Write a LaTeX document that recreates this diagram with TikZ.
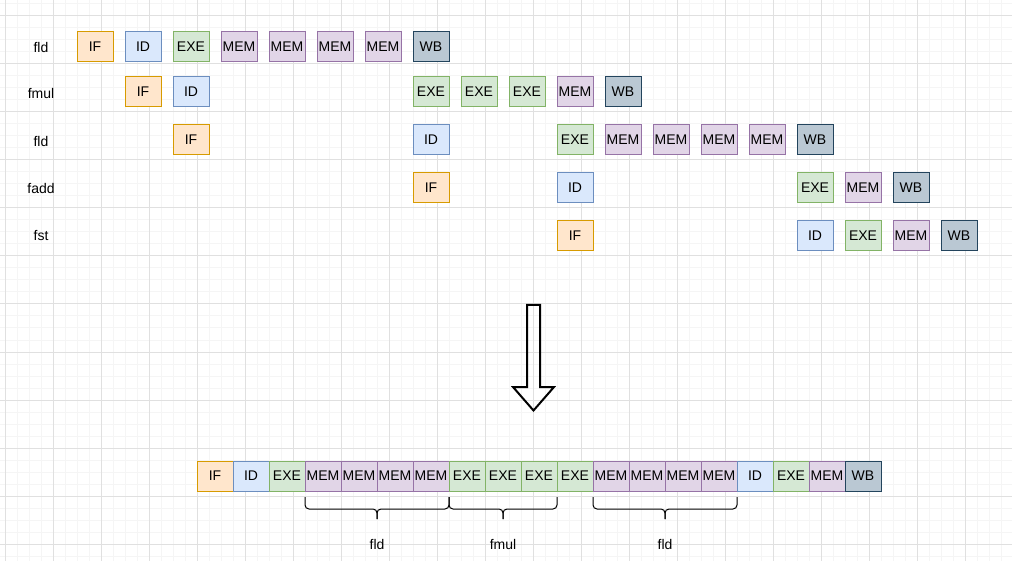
\documentclass[tikz,border=0pt]{standalone}
\usepackage{fontspec}
\setmainfont{Liberation Sans}
\begin{document}
\begin{tikzpicture}[x=1pt,y=-1pt,
  stage/.style={draw, line width=1pt, minimum width=36pt, minimum height=30pt, inner sep=0pt, font=\fontsize{14}{16}\selectfont},
  sIF/.style={stage, fill=ifF, draw=ifD},
  sID/.style={stage, fill=idF, draw=idD},
  sEXE/.style={stage, fill=exF, draw=exD},
  sMEM/.style={stage, fill=meF, draw=meD},
  sWB/.style={stage, fill=wbF, draw=wbD},
  lbl/.style={font=\fontsize{14}{16}\selectfont, inner sep=0pt},
  brc/.style={line width=1pt, rounded corners=4pt}]
\definecolor{ifF}{HTML}{FFE6CC}\definecolor{ifD}{HTML}{D79B00}
\definecolor{idF}{HTML}{DAE8FC}\definecolor{idD}{HTML}{6C8EBF}
\definecolor{exF}{HTML}{D5E8D4}\definecolor{exD}{HTML}{82B366}
\definecolor{meF}{HTML}{E1D5E7}\definecolor{meD}{HTML}{9673A6}
\definecolor{wbF}{HTML}{BAC8D3}\definecolor{wbD}{HTML}{23445D}
\definecolor{gridminor}{HTML}{F5F5F5}
\definecolor{gridmajor}{HTML}{E0E0E0}
\useasboundingbox[fill=white] (0,0) rectangle (1012,561);
% grid
\foreach \x in {5,17,...,1012} \draw[gridminor, line width=1pt] (\x,0) -- (\x,561);
\foreach \y in {4,16,...,561} \draw[gridminor, line width=1pt] (0,\y) -- (1012,\y);
\foreach \x in {5,53,...,1012} \draw[gridmajor, line width=1pt] (\x,0) -- (\x,561);
\foreach \y in {16,64,...,561} \draw[gridmajor, line width=1pt] (0,\y) -- (1012,\y);

% row labels
\node[lbl] (l1) at (41,47) {fld};
\node[lbl] (l2) at (41,93) {fmul};
\node[lbl] (l3) at (41,141) {fld};
\node[lbl] (l4) at (41,188) {fadd};
\node[lbl] (l5) at (41,236) {fst};

% row 1
\node[sIF]  (a1) at (95,47) {IF};
\node[sID]  (a2) at (143,47) {ID};
\node[sEXE] (a3) at (191,47) {EXE};
\node[sMEM] (a4) at (239,47) {MEM};
\node[sMEM] (a5) at (287,47) {MEM};
\node[sMEM] (a6) at (335,47) {MEM};
\node[sMEM] (a7) at (383,47) {MEM};
\node[sWB]  (a8) at (431,47) {WB};

% row 2
\node[sIF]  (b1) at (143,92) {IF};
\node[sID]  (b2) at (191,92) {ID};
\node[sEXE] (b3) at (431,92) {EXE};
\node[sEXE] (b4) at (479,92) {EXE};
\node[sEXE] (b5) at (527,92) {EXE};
\node[sMEM] (b6) at (575,92) {MEM};
\node[sWB]  (b7) at (623,92) {WB};

% row 3
\node[sIF]  (c1) at (191,140) {IF};
\node[sID]  (c2) at (431,140) {ID};
\node[sEXE] (c3) at (575,140) {EXE};
\node[sMEM] (c4) at (623,140) {MEM};
\node[sMEM] (c5) at (671,140) {MEM};
\node[sMEM] (c6) at (719,140) {MEM};
\node[sMEM] (c7) at (767,140) {MEM};
\node[sWB]  (c8) at (815,140) {WB};

% row 4
\node[sIF]  (d1) at (431,188) {IF};
\node[sID]  (d2) at (575,188) {ID};
\node[sEXE] (d3) at (815,188) {EXE};
\node[sMEM] (d4) at (863,188) {MEM};
\node[sWB]  (d5) at (911,188) {WB};

% row 5
\node[sIF]  (e1) at (575,236) {IF};
\node[sID]  (e2) at (815,236) {ID};
\node[sEXE] (e3) at (863,236) {EXE};
\node[sMEM] (e4) at (911,236) {MEM};
\node[sWB]  (e5) at (959,236) {WB};

% big hollow arrow
\draw[line width=2pt, line join=miter] (527,305) -- (540,305) -- (540,387) -- (554,387) -- (533.5,410.5) -- (513,387) -- (527,387) -- cycle;

% bottom merged pipeline
\node[sIF]  (f1)  at (215,476) {IF};
\node[sID]  (f2)  at (251,476) {ID};
\node[sEXE] (f3)  at (287,476) {EXE};
\node[sMEM] (f4)  at (323,476) {MEM};
\node[sMEM] (f5)  at (359,476) {MEM};
\node[sMEM] (f6)  at (395,476) {MEM};
\node[sMEM] (f7)  at (431,476) {MEM};
\node[sEXE] (f8)  at (467,476) {EXE};
\node[sEXE] (f9)  at (503,476) {EXE};
\node[sEXE] (f10) at (539,476) {EXE};
\node[sEXE] (f11) at (575,476) {EXE};
\node[sMEM] (f12) at (611,476) {MEM};
\node[sMEM] (f13) at (647,476) {MEM};
\node[sMEM] (f14) at (683,476) {MEM};
\node[sMEM] (f15) at (719,476) {MEM};
\node[sID]  (f16) at (755,476) {ID};
\node[sEXE] (f17) at (791,476) {EXE};
\node[sMEM] (f18) at (827,476) {MEM};
\node[sWB]  (f19) at (863,476) {WB};

% braces
\draw[brc] (305,497) -- (305,509) -- (377,509) -- (377,519);
\draw[brc] (449,497) -- (449,509) -- (377,509) -- (377,519);
\draw[brc] (449,497) -- (449,509) -- (503,509) -- (503,519);
\draw[brc] (557,497) -- (557,509) -- (503,509) -- (503,519);
\draw[brc] (593,497) -- (593,509) -- (665,509) -- (665,519);
\draw[brc] (737,497) -- (737,509) -- (665,509) -- (665,519);

\node[lbl] (g1) at (377,544) {fld};
\node[lbl] (g2) at (503,544) {fmul};
\node[lbl] (g3) at (665,544) {fld};
\end{tikzpicture}
\end{document}
